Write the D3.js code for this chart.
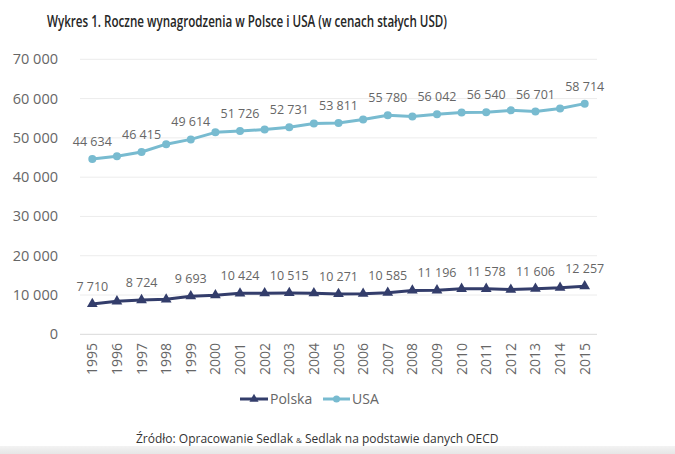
<!DOCTYPE html>
<html><head><meta charset="utf-8">
<script src="https://cdn.jsdelivr.net/npm/d3@7"></script>
<style>
html,body{margin:0;padding:0;background:#fff;}
svg{display:block;}
</style></head>
<body>
<svg id="chart" width="675" height="454"></svg>
<script>
const years = ["1995","1996","1997","1998","1999","2000","2001","2002","2003","2004","2005","2006","2007","2008","2009","2010","2011","2012","2013","2014","2015"];
const usa = [44634,45300,46415,48400,49614,51400,51726,52150,52731,53650,53811,54700,55780,55450,56042,56480,56540,57000,56701,57500,58714];
const polska = [7710,8400,8724,8900,9693,9950,10424,10450,10515,10480,10271,10350,10585,11150,11196,11580,11578,11380,11606,11850,12257];
const yTicks = [0,10000,20000,30000,40000,50000,60000,70000];
const labelIdx = [0,2,4,6,8,10,12,14,16,18,20];

const svg = d3.select("#chart");
const font = "'Open Sans', 'Noto Sans', sans-serif";
const fmt = v => d3.format(",")(v).replace(/,/g, " ");

const x = d3.scaleBand().domain(years).range([80, 597]);
const y = d3.scaleLinear().domain([0,70000]).range([334.3, 59.3]);
const cx = d => x(d) + x.bandwidth()/2;

// bottom gray band
const grad = svg.append("defs").append("linearGradient").attr("id","bg").attr("x1",0).attr("y1",0).attr("x2",0).attr("y2",1);
grad.append("stop").attr("offset","0%").attr("stop-color","#f3f3f3");
grad.append("stop").attr("offset","100%").attr("stop-color","#e6e6e6");
svg.append("rect").attr("x",0).attr("y",446).attr("width",675).attr("height",8).attr("fill","url(#bg)");

// title
svg.append("text").attr("x",47).attr("y",27)
  .attr("font-family",font).attr("font-weight","600").attr("font-size",16.5).attr("fill","#262626")
  .attr("textLength",400).attr("lengthAdjust","spacingAndGlyphs")
  .text("Wykres 1. Roczne wynagrodzenia w Polsce i USA (w cenach stałych USD)");

// gridlines
svg.append("g").selectAll("line").data(yTicks).join("line")
  .attr("x1",80).attr("x2",597).attr("y1",d=>y(d)).attr("y2",d=>y(d))
  .attr("stroke", d => d===0 ? "#d9d9d9" : "#ececec").attr("stroke-width",1);

// y axis labels
svg.append("g").selectAll("text").data(yTicks).join("text")
  .attr("x",58).attr("y",d=>y(d)+5).attr("text-anchor","end")
  .attr("font-family",font).attr("font-size",14.5).attr("fill","#666")
  .text(d => fmt(d));

// x axis labels
svg.append("g").selectAll("text").data(years).join("text")
  .attr("transform", d => `translate(${cx(d)+5},343) rotate(-90)`)
  .attr("text-anchor","end")
  .attr("font-family",font).attr("font-size",14).attr("fill","#666")
  .text(d => d);

const line = d3.line().x((d,i)=>cx(years[i])).y(d=>y(d));

// USA
svg.append("path").datum(usa).attr("d",line).attr("fill","none")
  .attr("stroke","#78bbd0").attr("stroke-width",3).attr("stroke-linejoin","round");
svg.append("g").selectAll("circle").data(usa).join("circle")
  .attr("cx",(d,i)=>cx(years[i])).attr("cy",d=>y(d)).attr("r",4).attr("fill","#78bbd0");

// Polska
svg.append("path").datum(polska).attr("d",line).attr("fill","none")
  .attr("stroke","#333d6b").attr("stroke-width",3).attr("stroke-linejoin","round");
const tri = d3.symbol().type(d3.symbolTriangle).size(50);
svg.append("g").selectAll("path").data(polska).join("path")
  .attr("d",tri).attr("transform",(d,i)=>`translate(${cx(years[i])},${y(d)})`).attr("fill","#333d6b");

// data labels
function labels(arr){
  svg.append("g").selectAll("text").data(labelIdx).join("text")
    .attr("x", i => cx(years[i])).attr("y", i => y(arr[i]) - 13)
    .attr("text-anchor","middle").attr("font-family",font).attr("font-size",12.5).attr("fill","#666")
    .text(i => fmt(arr[i]));
}
labels(usa);
labels(polska);

// legend
const lg = svg.append("g");
lg.append("line").attr("x1",240).attr("x2",268).attr("y1",399).attr("y2",399).attr("stroke","#333d6b").attr("stroke-width",3);
lg.append("path").attr("d",d3.symbol().type(d3.symbolTriangle).size(36)).attr("transform","translate(254,399)").attr("fill","#333d6b");
lg.append("text").attr("x",270).attr("y",404).attr("font-family",font).attr("font-size",14).attr("fill","#666").text("Polska");
lg.append("line").attr("x1",323).attr("x2",350).attr("y1",399).attr("y2",399).attr("stroke","#78bbd0").attr("stroke-width",3);
lg.append("circle").attr("cx",336.5).attr("cy",399).attr("r",3.5).attr("fill","#78bbd0");
lg.append("text").attr("x",352).attr("y",404).attr("font-family",font).attr("font-size",14).attr("fill","#666").text("USA");

// source
const src = svg.append("text").attr("x",136).attr("y",443).attr("font-family",font).attr("font-size",12).attr("fill","#333");
src.append("tspan").text("Źródło: Opracowanie Sedlak ");
src.append("tspan").attr("font-size",8).text("&");
src.append("tspan").text(" Sedlak na podstawie danych OECD");
</script>
</body></html>
